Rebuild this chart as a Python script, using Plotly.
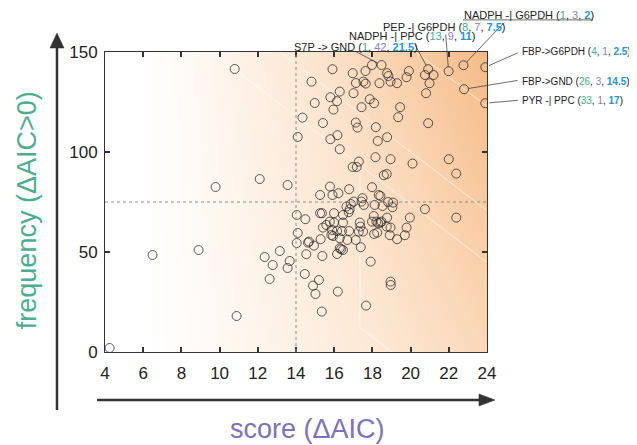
import numpy as np
import plotly.graph_objects as go

# ---------------- data ----------------
score = [4.24, 6.49, 8.90, 9.79, 10.79, 10.89, 12.10, 12.36, 13.15, 12.78, 12.62, 13.67, 13.56, 13.56,
         14.04, 14.09, 14.04, 14.09, 15.91, 16.97, 17.64, 17.98, 18.48, 18.77, 14.81, 17.14, 17.53, 17.65,
         18.37, 16.29, 17.01, 15.80, 16.15, 14.98, 17.86, 18.09, 15.96, 17.43, 14.34, 15.41, 17.13, 17.22,
         18.18, 16.17, 15.80, 18.28, 18.77, 16.29, 19.91, 20.92, 20.75, 21.20, 21.99, 22.77, 23.91, 19.79,
         18.84, 18.95, 19.29, 20.99, 20.81, 22.80, 23.91, 19.45, 19.35, 20.92, 22.00, 20.10, 22.39, 18.75,
         18.60, 20.75, 22.39, 19.96, 19.79, 19.70, 19.29, 18.91, 18.95, 18.77, 18.48, 18.82, 19.08, 19.05,
         18.53, 18.42, 17.29, 16.97, 17.18, 18.16, 18.95, 15.78, 15.26, 15.91, 16.22, 16.78, 17.98, 18.33,
         17.48, 17.02, 17.43, 17.55, 16.87, 16.64, 16.81, 16.76, 18.12, 14.49, 15.26, 15.36, 15.99, 16.46,
         16.46, 15.99, 15.77, 15.59, 15.41, 15.89, 16.15, 16.41, 16.78, 17.34, 17.37, 17.29, 17.51, 18.07,
         18.21, 18.30, 18.42, 17.98, 18.09, 18.25, 18.75, 15.85, 15.94, 16.29, 16.69, 17.13, 17.39, 16.36,
         16.46, 16.29, 15.38, 16.15, 14.94, 14.68, 14.63, 15.29, 14.54, 17.91, 14.46, 15.20, 14.89, 15.02,
         16.19, 15.35, 17.67, 18.95, 18.96]
frequency = [2.0, 48.5, 51.0, 82.5, 141.5, 18.0, 86.5, 47.5, 50.5, 43.5, 36.5, 45.5, 42.0, 83.5,
             54.5, 59.5, 68.5, 107.5, 141.4, 139.4, 140.5, 143.5, 143.5, 139.4, 135.2, 134.5, 135.2, 134.2,
             134.4, 130.2, 129.4, 127.4, 125.4, 124.5, 126.4, 124.4, 121.2, 122.4, 117.2, 114.5, 114.7, 112.2,
             112.4, 108.4, 106.4, 105.5, 107.4, 101.4, 140.5, 141.4, 138.5, 138.5, 140.4, 143.4, 142.4, 137.4,
             138.0, 135.2, 134.4, 134.4, 129.4, 131.4, 124.4, 122.4, 117.4, 114.4, 96.4, 94.2, 89.2, 89.0,
             88.4, 71.4, 67.2, 67.2, 62.2, 58.4, 56.4, 58.4, 62.2, 67.2, 65.2, 75.0, 74.7, 72.4,
             73.0, 78.0, 95.2, 92.5, 92.5, 97.4, 96.4, 82.7, 78.5, 78.5, 79.4, 81.4, 82.4, 78.5,
             76.9, 75.2, 75.2, 73.5, 74.0, 72.7, 71.4, 69.9, 73.5, 66.4, 69.4, 69.4, 69.4, 68.5,
             64.7, 64.7, 65.2, 63.5, 62.2, 61.0, 60.5, 60.5, 60.5, 64.7, 62.7, 60.2, 60.2, 68.0,
             65.2, 64.4, 64.7, 65.2, 59.0, 59.7, 62.7, 58.5, 58.0, 56.9, 56.0, 56.0, 52.4, 51.4,
             51.0, 51.9, 48.0, 49.0, 53.2, 55.2, 54.7, 56.4, 48.9, 45.2, 39.0, 36.0, 33.2, 29.0,
             30.2, 20.2, 23.2, 35.2, 33.5]

# labelled interactions: name, (n1, n2, n3), score, frequency
label_names = ["NADPH -| G6PDH", "PEP -| G6PDH", "NADPH -| PPC", "S7P -> GND",
               "FBP->G6PDH", "FBP->GND", "PYR -| PPC"]
label_n1 = ["1", "8", "13", "1", "4", "26", "33"]
label_n2 = ["3", "7", "9", "42", "1", "3", "1"]
label_n3 = ["2", "7.5", "11", "21.5", "2.5", "14.5", "17"]
label_score = [22.77, 21.99, 20.92, 18.48, 23.91, 22.80, 23.91]
label_freq = [143.4, 140.4, 141.4, 143.5, 142.4, 131.4, 124.4]

x_ticks = [4, 6, 8, 10, 12, 14, 16, 18, 20, 22, 24]
y_ticks = [0, 50, 100, 150]
score_threshold = 14
freq_threshold = 75

x_title = "score (ΔAIC)"
y_title = "frequency (ΔAIC>0)"

# ---------------- figure ----------------
C1, C2, C3 = "#3fae8a", "#8d80c4", "#1e96d8"

# background gradient (styling only)
gx = np.linspace(3.5, 24.5, 85)
gy = np.linspace(-3, 153, 53)
GX, GY = np.meshgrid(gx, gy)
GZ = np.clip((GX - 6.0) / 18.0, 0, 1) ** 1.15 * (0.62 + 0.38 * np.clip(GY, 0, 150) / 150)

fig = go.Figure()
fig.add_trace(go.Heatmap(
    x=gx, y=gy, z=GZ, zmin=0, zmax=1, zsmooth="best", showscale=False, hoverinfo="skip",
    colorscale=[[0, "rgb(255,255,255)"], [0.45, "rgb(252,229,207)"], [1, "rgb(246,186,134)"]],
))

# faint white seams in the background (styling only)
seam_slope = 7.3
seam_levels = [220, 246, 298]
for c in seam_levels:
    xs = np.array([4.0, 24.0])
    fig.add_trace(go.Scatter(x=xs, y=c - seam_slope * xs, mode="lines", hoverinfo="skip",
                             line=dict(color="rgba(255,255,255,0.6)", width=1), showlegend=False))
fig.add_trace(go.Scatter(x=[17.35, 17.35, 17.35 + 12.3 / seam_slope], y=[91, 12.3, 0], mode="lines",
                         hoverinfo="skip", line=dict(color="rgba(255,255,255,0.6)", width=1),
                         showlegend=False))

fig.add_trace(go.Scatter(
    x=score, y=frequency, mode="markers",
    marker=dict(symbol="circle-open", size=9, line=dict(width=1, color="rgba(35,35,35,0.75)"),
                color="rgba(35,35,35,0.75)"),
    hoverinfo="x+y", showlegend=False,
))

font_family = "Liberation Sans, Arial, sans-serif"

# page body has an 8px margin: figure is 629x437 so that it fills the 637x445 window
fig.update_layout(
    width=629, height=437, autosize=False,
    margin=dict(l=97, r=150, t=44, b=93),
    paper_bgcolor="white", plot_bgcolor="white",
    showlegend=False,
    font=dict(family=font_family, color="#222"),
    xaxis=dict(range=[4, 24], tickvals=x_ticks, ticktext=[str(v) for v in x_ticks],
               showgrid=False, zeroline=False, showline=True, linecolor="#333", linewidth=1,
               mirror="ticks", ticks="inside", ticklen=5, tickcolor="#333", tickwidth=1.5,
               tickfont=dict(size=17, color="#222"), ticklabelstandoff=6),
    yaxis=dict(range=[0, 150], tickvals=y_ticks, ticktext=[str(v) for v in y_ticks],
               showgrid=False, zeroline=False, showline=True, linecolor="#333", linewidth=1,
               mirror="ticks", ticks="inside", ticklen=5, tickcolor="#333", tickwidth=1.5,
               tickfont=dict(size=17, color="#222"), ticklabelstandoff=3),
)

shapes = []
# dotted threshold lines
shapes.append(dict(type="line", xref="x", yref="paper", x0=score_threshold, x1=score_threshold, y0=0, y1=1,
                   line=dict(color="#8a8a8a", width=1, dash="dot"), layer="above"))
shapes.append(dict(type="line", xref="paper", yref="y", x0=0, x1=1, y0=freq_threshold, y1=freq_threshold,
                   line=dict(color="#8a8a8a", width=1, dash="dot"), layer="above"))
# big axis arrows
shapes.append(dict(type="line", xref="paper", yref="paper", x0=-0.1257, x1=-0.1257, y0=-0.193, y1=1.02,
                   line=dict(color="#333", width=2.5)))
shapes.append(dict(type="path", xref="paper", yref="paper",
                   path="M -0.1257 1.0633 L -0.144 1.0133 L -0.1073 1.0133 Z",
                   fillcolor="#333", line=dict(color="#333", width=0.5)))
shapes.append(dict(type="line", xref="paper", yref="paper", x0=-0.021, x1=0.985, y0=-0.16, y1=-0.16,
                   line=dict(color="#333", width=2.5)))
shapes.append(dict(type="path", xref="paper", yref="paper",
                   path="M 1.021 -0.16 L 0.979 -0.14 L 0.979 -0.18 Z",
                   fillcolor="#333", line=dict(color="#333", width=0.5)))
# underline for first label
shapes.append(dict(type="line", xref="paper", yref="paper", x0=0.937, x1=1.277, y0=1.107, y1=1.107,
                   line=dict(color="#444", width=0.8)))
fig.update_layout(shapes=shapes)

annotations = []
# text positions (paper), font sizes and leader tail offsets (pixels)
text_pos = [(0.937, 1.123), (0.725, 1.083), (0.636, 1.052), (0.492, 1.016),
            (1.089, 1.003), (1.089, 0.903), (1.089, 0.840)]
text_size = [11, 11, 11, 11, 10, 10, 10]
tails = [(42, -44), (-3, -38), (-14, -26), (-27, -14), (34, -15), (55, -9), (34, -3)]
for i, name in enumerate(label_names):
    txt = (f"{name} (<span style='color:{C1}'>{label_n1[i]}</span>, "
           f"<span style='color:{C2}'>{label_n2[i]}</span>, "
           f"<b><span style='color:{C3}'>{label_n3[i]}</span></b>)")
    annotations.append(dict(x=text_pos[i][0], y=text_pos[i][1], xref="paper", yref="paper",
                            text=txt, showarrow=False, xanchor="left", yanchor="middle",
                            borderpad=0, font=dict(size=text_size[i], color="#222", family=font_family)))
    annotations.append(dict(x=label_score[i], y=label_freq[i], xref="x", yref="y", text="",
                            showarrow=True, arrowhead=0, arrowwidth=0.8, arrowcolor="#444",
                            ax=tails[i][0], ay=tails[i][1], standoff=4))

annotations.append(dict(x=-0.204, y=0.473, xref="paper", yref="paper", text=y_title, textangle=-90,
                        xanchor="center", yanchor="middle",
                        showarrow=False, font=dict(size=27, color="#4cae8f", family=font_family)))
annotations.append(dict(x=0.531, y=-0.258, xref="paper", yref="paper", text=x_title,
                        xanchor="center", yanchor="middle",
                        showarrow=False, font=dict(size=27, color="#7b72bd", family=font_family)))
fig.update_layout(annotations=annotations)

fig.write_html("out.html")
